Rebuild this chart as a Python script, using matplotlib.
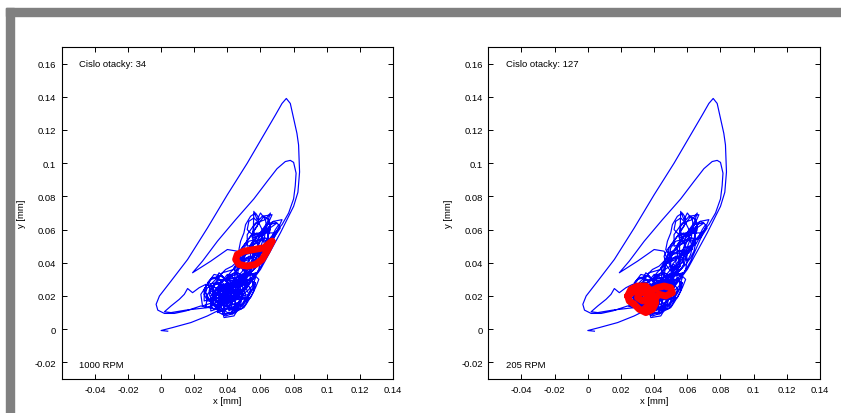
import matplotlib
matplotlib.use("Agg")
import matplotlib.pyplot as plt
from matplotlib.patches import Rectangle

# ---------------- data (in mm) ----------------
start_path = [(0.004, -0.0012), (0.000, -0.0008), (0.007, 0.001), (0.018, 0.004),
              (0.028, 0.008), (0.034, 0.011)]

cluster_low = [
    (0.040, 0.018), (0.046, 0.026), (0.040, 0.024), (0.035, 0.017), (0.034, 0.010), (0.040, 0.012), (0.045, 0.019),
    (0.041, 0.031), (0.034, 0.029), (0.028, 0.021), (0.027, 0.013), (0.034, 0.015), (0.040, 0.023),
    (0.052, 0.034), (0.045, 0.031), (0.039, 0.023), (0.038, 0.016), (0.046, 0.018), (0.051, 0.026),
    (0.044, 0.036), (0.037, 0.034), (0.032, 0.027), (0.031, 0.019), (0.038, 0.022), (0.043, 0.029),
    (0.056, 0.038), (0.050, 0.036), (0.044, 0.029), (0.043, 0.022), (0.050, 0.024), (0.055, 0.031),
    (0.049, 0.024), (0.043, 0.022), (0.038, 0.015), (0.037, 0.009), (0.044, 0.010), (0.048, 0.017),
    (0.037, 0.032), (0.031, 0.031), (0.026, 0.024), (0.026, 0.017), (0.032, 0.019), (0.036, 0.026),
    (0.054, 0.028), (0.048, 0.026), (0.042, 0.019), (0.041, 0.012), (0.048, 0.014), (0.053, 0.021),
    (0.048, 0.032), (0.041, 0.030), (0.035, 0.022), (0.034, 0.014), (0.041, 0.016), (0.047, 0.024),
    (0.042, 0.027), (0.036, 0.025), (0.030, 0.018), (0.030, 0.011), (0.036, 0.013), (0.041, 0.020),
    (0.058, 0.034), (0.053, 0.033), (0.047, 0.026), (0.046, 0.019), (0.053, 0.021), (0.057, 0.028),
    (0.045, 0.033), (0.038, 0.030), (0.032, 0.023), (0.031, 0.016), (0.038, 0.018), (0.044, 0.025),
    (0.050, 0.028), (0.044, 0.027), (0.039, 0.020), (0.038, 0.012), (0.045, 0.014), (0.050, 0.021),
    (0.034, 0.028), (0.028, 0.027), (0.024, 0.021), (0.025, 0.014), (0.031, 0.016), (0.034, 0.022),
    (0.047, 0.018), (0.041, 0.017), (0.037, 0.011), (0.038, 0.007), (0.044, 0.008), (0.047, 0.013),
    (0.036, 0.020), (0.030, 0.016),
]

scribble_low_a = [
    (0.030, 0.020), (0.033, 0.024), (0.036, 0.023), (0.035, 0.019), (0.031, 0.017), (0.029, 0.021),
    (0.031, 0.026), (0.035, 0.028), (0.038, 0.026), (0.038, 0.021), (0.035, 0.016), (0.033, 0.013),
    (0.036, 0.011), (0.040, 0.013), (0.041, 0.018), (0.039, 0.022), (0.041, 0.027), (0.045, 0.028),
    (0.047, 0.024), (0.045, 0.019), (0.042, 0.015), (0.043, 0.011), (0.047, 0.012), (0.050, 0.016),
    (0.051, 0.021), (0.049, 0.026), (0.051, 0.030), (0.055, 0.030), (0.056, 0.025), (0.053, 0.020),
    (0.049, 0.018), (0.046, 0.021), (0.047, 0.026), (0.044, 0.031), (0.040, 0.031), (0.037, 0.029),
    (0.034, 0.031), (0.030, 0.030), (0.027, 0.026), (0.027, 0.022), (0.029, 0.018), (0.032, 0.015),
    (0.036, 0.014), (0.039, 0.016), (0.040, 0.020), (0.043, 0.023), (0.046, 0.022), (0.048, 0.019),
    (0.046, 0.014), (0.042, 0.010), (0.039, 0.009), (0.037, 0.012), (0.034, 0.016), (0.032, 0.021),
    (0.034, 0.025), (0.038, 0.024), (0.042, 0.025), (0.044, 0.029), (0.048, 0.031), (0.052, 0.028),
    (0.054, 0.024), (0.052, 0.018), (0.049, 0.014), (0.045, 0.016), (0.043, 0.020), (0.040, 0.024),
    (0.036, 0.026), (0.033, 0.028), (0.031, 0.024), (0.033, 0.019), (0.037, 0.018), (0.040, 0.015),
    (0.041, 0.011), (0.044, 0.013), (0.045, 0.018), (0.047, 0.022), (0.051, 0.024), (0.053, 0.027),
    (0.050, 0.032), (0.046, 0.034), (0.042, 0.033), (0.039, 0.030), (0.036, 0.032), (0.032, 0.033),
    (0.029, 0.029), (0.026, 0.024), (0.028, 0.019), (0.031, 0.015), (0.034, 0.012), (0.038, 0.011),
]

scribble_low_b = [
    (0.043, 0.016), (0.044, 0.022), (0.041, 0.026), (0.037, 0.023), (0.036, 0.018), (0.039, 0.014),
    (0.044, 0.012), (0.048, 0.015), (0.049, 0.020), (0.046, 0.025), (0.042, 0.028), (0.038, 0.027),
    (0.035, 0.023), (0.032, 0.018), (0.030, 0.014), (0.032, 0.012), (0.036, 0.015), (0.038, 0.020),
    (0.041, 0.023), (0.045, 0.024), (0.049, 0.022), (0.052, 0.025), (0.054, 0.029), (0.057, 0.028),
    (0.056, 0.023), (0.054, 0.019), (0.051, 0.017), (0.048, 0.021), (0.048, 0.027), (0.045, 0.030),
    (0.041, 0.029), (0.038, 0.031), (0.035, 0.034), (0.033, 0.030), (0.030, 0.027), (0.029, 0.023),
    (0.031, 0.020), (0.035, 0.021), (0.037, 0.025), (0.040, 0.027), (0.043, 0.026), (0.044, 0.020),
    (0.042, 0.017), (0.040, 0.018), (0.038, 0.022), (0.035, 0.025), (0.031, 0.022), (0.033, 0.017),
    (0.036, 0.013), (0.040, 0.010), (0.043, 0.009), (0.046, 0.011), (0.050, 0.013), (0.052, 0.016),
    (0.055, 0.021), (0.057, 0.025), (0.059, 0.030), (0.056, 0.033), (0.052, 0.033), (0.049, 0.029),
    (0.046, 0.027), (0.043, 0.024), (0.040, 0.021), (0.037, 0.020), (0.034, 0.019), (0.031, 0.017),
    (0.028, 0.017), (0.026, 0.021), (0.028, 0.025),
]

scribble_mid = [
    (0.040, 0.030), (0.044, 0.034), (0.048, 0.037), (0.052, 0.039), (0.054, 0.036), (0.051, 0.032),
    (0.047, 0.031), (0.044, 0.037), (0.047, 0.042), (0.050, 0.041), (0.053, 0.044), (0.057, 0.043),
    (0.058, 0.039), (0.055, 0.035), (0.050, 0.033), (0.046, 0.029), (0.042, 0.027), (0.039, 0.029),
    (0.036, 0.033), (0.039, 0.036), (0.043, 0.038), (0.046, 0.041), (0.049, 0.046), (0.053, 0.048),
    (0.056, 0.047), (0.059, 0.046), (0.060, 0.042), (0.059, 0.036), (0.056, 0.031), (0.053, 0.027),
    (0.050, 0.023), (0.046, 0.020), (0.042, 0.019), (0.038, 0.019), (0.034, 0.021), (0.030, 0.023),
    (0.028, 0.028), (0.031, 0.031), (0.035, 0.030), (0.038, 0.027), (0.040, 0.024), (0.044, 0.021),
    (0.049, 0.021), (0.052, 0.023), (0.055, 0.026), (0.057, 0.031), (0.054, 0.033), (0.050, 0.030),
    (0.047, 0.028), (0.044, 0.026), (0.041, 0.022), (0.039, 0.018), (0.036, 0.016), (0.033, 0.014),
    (0.035, 0.010), (0.039, 0.008), (0.042, 0.009), (0.045, 0.013), (0.048, 0.012), (0.051, 0.015),
    (0.053, 0.019), (0.050, 0.019), (0.047, 0.016), (0.044, 0.015), (0.041, 0.014), (0.038, 0.014),
    (0.036, 0.017), (0.034, 0.023), (0.036, 0.028), (0.040, 0.033), (0.043, 0.032),
]

outer_loop = [(0.024, 0.014), (0.015, 0.011), (0.008, 0.0095), (0.002, 0.0095), (-0.002, 0.0115),
              (-0.003, 0.015), (-0.001, 0.020), (0.006, 0.029), (0.016, 0.042), (0.028, 0.061),
              (0.040, 0.081), (0.052, 0.100), (0.062, 0.117), (0.069, 0.129), (0.073, 0.136),
              (0.0756, 0.139), (0.078, 0.136), (0.080, 0.127), (0.082, 0.118), (0.083, 0.111),
              (0.0836, 0.0947), (0.0826, 0.0825), (0.080, 0.074), (0.076, 0.066), (0.072, 0.058),
              (0.066, 0.047), (0.060, 0.036), (0.054, 0.028)]

cluster_high = [
    (0.053, 0.042), (0.046, 0.039), (0.040, 0.032), (0.039, 0.024), (0.046, 0.027), (0.051, 0.034),
    (0.058, 0.048), (0.052, 0.046), (0.047, 0.039), (0.046, 0.032), (0.053, 0.034), (0.057, 0.041),
    (0.062, 0.055), (0.055, 0.052), (0.050, 0.045), (0.050, 0.037), (0.057, 0.040), (0.061, 0.047),
    (0.066, 0.060), (0.059, 0.058), (0.054, 0.051), (0.054, 0.043), (0.061, 0.046), (0.065, 0.053),
    (0.063, 0.066), (0.057, 0.064), (0.052, 0.057), (0.052, 0.050), (0.059, 0.052), (0.063, 0.059),
    (0.070, 0.064), (0.064, 0.063), (0.059, 0.056), (0.058, 0.049), (0.065, 0.051), (0.069, 0.058),
    (0.060, 0.058), (0.054, 0.056), (0.049, 0.049), (0.048, 0.042), (0.055, 0.044), (0.059, 0.051),
    (0.067, 0.069), (0.061, 0.068), (0.056, 0.062), (0.055, 0.055), (0.062, 0.057), (0.066, 0.063),
    (0.063, 0.048), (0.057, 0.046), (0.051, 0.039), (0.051, 0.032), (0.058, 0.034), (0.062, 0.041),
    (0.073, 0.066), (0.068, 0.065), (0.063, 0.059), (0.062, 0.053), (0.068, 0.055), (0.072, 0.061),
    (0.055, 0.043), (0.049, 0.042), (0.045, 0.035), (0.044, 0.028), (0.051, 0.030), (0.055, 0.037),
    (0.056, 0.071), (0.058, 0.066), (0.060, 0.070), (0.063, 0.066), (0.066, 0.070), (0.064, 0.064),
]

scribble_high = [
    (0.044, 0.036), (0.048, 0.040), (0.051, 0.045), (0.055, 0.046), (0.056, 0.041), (0.053, 0.037),
    (0.050, 0.038), (0.049, 0.043), (0.050, 0.049), (0.053, 0.053), (0.057, 0.054), (0.059, 0.050),
    (0.058, 0.045), (0.060, 0.041), (0.062, 0.045), (0.063, 0.050), (0.061, 0.055), (0.058, 0.058),
    (0.055, 0.057), (0.052, 0.060), (0.053, 0.065), (0.056, 0.067), (0.059, 0.064), (0.061, 0.060),
    (0.064, 0.058), (0.066, 0.061), (0.065, 0.066), (0.062, 0.068), (0.060, 0.065), (0.057, 0.061),
    (0.054, 0.056), (0.051, 0.052), (0.048, 0.048), (0.046, 0.044), (0.047, 0.039), (0.050, 0.035),
    (0.054, 0.034), (0.057, 0.037), (0.059, 0.042), (0.061, 0.048), (0.064, 0.053), (0.067, 0.056),
    (0.069, 0.060), (0.071, 0.063), (0.068, 0.065), (0.064, 0.063), (0.061, 0.058), (0.058, 0.053),
    (0.055, 0.050), (0.052, 0.047), (0.049, 0.045), (0.047, 0.048), (0.048, 0.053), (0.050, 0.058),
    (0.051, 0.063), (0.054, 0.068), (0.057, 0.070), (0.059, 0.067), (0.058, 0.062), (0.056, 0.059),
    (0.057, 0.055), (0.060, 0.053), (0.063, 0.055), (0.065, 0.052), (0.064, 0.047), (0.062, 0.043),
    (0.059, 0.039), (0.056, 0.036), (0.052, 0.032), (0.046, 0.047), (0.040, 0.048),
]

inner_loop = [(0.030, 0.041), (0.019, 0.034), (0.025, 0.041), (0.034, 0.053), (0.045, 0.066),
              (0.056, 0.0785), (0.064, 0.089), (0.070, 0.0967), (0.075, 0.101), (0.078, 0.1017),
              (0.080, 0.1005), (0.0815, 0.094), (0.081, 0.0865), (0.080, 0.0785), (0.077, 0.070),
              (0.073, 0.063), (0.066, 0.055), (0.058, 0.044), (0.050, 0.033), (0.040, 0.022),
              (0.032, 0.015), (0.028, 0.013)]

zigzag = [(0.015, 0.0115), (0.006, 0.010), (0.002, 0.0105), (0.006, 0.014), (0.011, 0.018),
          (0.014, 0.021), (0.016, 0.0245), (0.019, 0.022), (0.023, 0.025), (0.027, 0.027),
          (0.033, 0.025), (0.040, 0.021)]

red_34 = [(0.067, 0.053), (0.062, 0.049), (0.056, 0.048), (0.050, 0.047), (0.046, 0.045),
          (0.045, 0.042), (0.047, 0.039), (0.052, 0.038), (0.057, 0.039), (0.061, 0.042),
          (0.064, 0.047), (0.067, 0.053)]

red_127 = [(0.024, 0.020), (0.026, 0.024), (0.030, 0.026), (0.035, 0.026), (0.038, 0.023),
           (0.037, 0.019), (0.033, 0.017), (0.030, 0.019), (0.031, 0.022), (0.035, 0.022),
           (0.040, 0.020), (0.041, 0.016), (0.039, 0.012), (0.035, 0.010), (0.031, 0.012),
           (0.028, 0.015), (0.025, 0.017), (0.024, 0.020), (0.028, 0.023), (0.033, 0.024),
           (0.038, 0.023), (0.042, 0.025), (0.046, 0.026), (0.050, 0.025), (0.051, 0.022),
           (0.047, 0.020), (0.043, 0.021), (0.039, 0.017), (0.036, 0.014), (0.034, 0.012)]

panels = [("Cislo otacky: 34", "1000 RPM", red_34),
          ("Cislo otacky: 127", "205 RPM", red_127)]

x_ticks = [-0.04, -0.02, 0, 0.02, 0.04, 0.06, 0.08, 0.1, 0.12, 0.14]
x_ticklabels = ["-0.04", "-0.02", "0", "0.02", "0.04", "0.06", "0.08", "0.1", "0.12", "0.14"]
y_ticks = [-0.02, 0, 0.02, 0.04, 0.06, 0.08, 0.1, 0.12, 0.14, 0.16]
y_ticklabels = ["-0.02", "0", "0.02", "0.04", "0.06", "0.08", "0.1", "0.12", "0.14", "0.16"]

blue_path = (start_path + cluster_low + scribble_low_a + outer_loop + cluster_high
             + scribble_high + inner_loop + zigzag + scribble_low_b + scribble_mid)
bx = [p[0] for p in blue_path]
by = [p[1] for p in blue_path]

# ---------------- figure ----------------
plt.rcParams['font.family'] = ['Liberation Sans', 'DejaVu Sans']
W, H = 841, 414
fig = plt.figure(figsize=(W / 100, H / 100), dpi=100)
fig.patch.set_facecolor('white')

gray = '#808080'
fig.patches.append(Rectangle((6 / W, (H - 17) / H), 1 - 6 / W, 8 / H,
                             transform=fig.transFigure, color=gray, zorder=0))
fig.patches.append(Rectangle((6 / W, 0), 8 / W, (H - 9) / H,
                             transform=fig.transFigure, color=gray, zorder=0))

ax_rects = [(61.7, 48, 393, 380), (488.3, 48, 820, 380)]
for (l, t, r, b), (title_txt, rpm_txt, red) in zip(ax_rects, panels):
    ax = fig.add_axes([l / W, (H - b) / H, (r - l) / W, (b - t) / H])
    ax.plot(bx, by, color='#0000ff', lw=0.85)
    ax.plot([p[0] for p in red], [p[1] for p in red], color='#ff0000', lw=5,
            solid_joinstyle='round', solid_capstyle='round')
    ax.set_xlim(-0.06, 0.14)
    ax.set_ylim(-0.03, 0.17)
    ax.set_xticks(x_ticks)
    ax.set_xticklabels(x_ticklabels)
    ax.set_yticks(y_ticks)
    ax.set_yticklabels(y_ticklabels)
    ax.tick_params(direction='in', top=True, right=True, length=3.5, width=0.7,
                   labelsize=6.8, pad=4)
    for s in ax.spines.values():
        s.set_linewidth(0.8)
    ax.set_xlabel('x [mm]', fontsize=6.8, labelpad=2)
    ax.set_ylabel('y [mm]', fontsize=6.8, labelpad=6)
    ax.text(-0.0495, 0.16, title_txt, fontsize=6.8, ha='left', va='center')
    ax.text(-0.0495, -0.021, rpm_txt, fontsize=6.8, ha='left', va='center')

fig.savefig('out.png', dpi=100, facecolor='white')
